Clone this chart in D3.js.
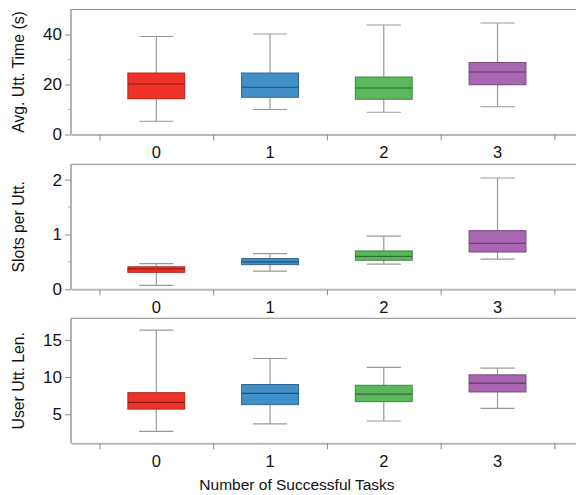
<!DOCTYPE html>
<html lang="en">
<head>
<meta charset="UTF-8">
<title>Box plots by successful tasks</title>
<script src="https://d3js.org/d3.v7.min.js"></script>
<style>
  body { margin: 0; background: #fff; }
  text { font-family: "Liberation Sans", Arial, Helvetica, sans-serif; fill: #111; }
</style>
</head>
<body>
<svg id="chart"></svg>
<script>
// categories and colours
const categories = ['0', '1', '2', '3'];
const colors = ['#ee3228', '#4190c9', '#5cb85c', '#a966b1'];

// box stats per category: [lower whisker, q1, median, q3, upper whisker]
const uttTime = [
    [5.3, 14.3, 20.2, 24.6, 39.2],
    [10.0, 14.9, 18.9, 24.6, 40.2],
    [8.9, 14.1, 18.6, 23.0, 43.8],
    [11.1, 19.9, 25.0, 28.8, 44.6]
];
const slotsPerUtt = [
    [0.07, 0.31, 0.37, 0.41, 0.47],
    [0.33, 0.45, 0.50, 0.56, 0.65],
    [0.46, 0.53, 0.60, 0.70, 0.97],
    [0.55, 0.68, 0.84, 1.07, 2.03]
];
const uttLen = [
    [2.7, 5.7, 6.6, 7.9, 16.3],
    [3.7, 6.3, 7.8, 9.0, 12.5],
    [4.1, 6.7, 7.7, 8.9, 11.3],
    [5.8, 8.0, 9.2, 10.3, 11.2]
];

// y tick labels
const ticks1 = [0, 20, 40], minor1 = [10, 30];
const ticks2 = [0, 1, 2], minor2 = [0.5, 1.5];
const ticks3 = [5, 10, 15], minor3 = [];

const panels = [
    {title: 'Avg. Utt. Time (s)', data: uttTime, domain: [0, 50], ticks: ticks1, minor: minor1, top: 9.5},
    {title: 'Slots per Utt.', data: slotsPerUtt, domain: [0, 2.28], ticks: ticks2, minor: minor2, top: 164.3},
    {title: 'User Utt. Len.', data: uttLen, domain: [1.1, 17.9], ticks: ticks3, minor: minor3, top: 318.3}
];

const width = 576, height = 495;
const panelHeight = 125;
const left = 71;

const svg = d3.select('#chart').attr('width', width).attr('height', height);

// x positions: categories at integer positions, ticks on the boundaries
const xScale = d3.scaleLinear().domain([-0.75, 3.69]).range([left, width]);
const band = xScale(1) - xScale(0);
const boundaries = d3.range(-0.5, categories.length, 1);

panels.forEach(p => {
    const bottom = p.top + panelHeight;
    const yScale = d3.scaleLinear().domain(p.domain).range([bottom, p.top]);
    const g = svg.append('g');

    // frame: top line, left axis line, bottom axis line
    g.append('line')
        .attr('x1', left).attr('x2', width)
        .attr('y1', p.top).attr('y2', p.top)
        .attr('stroke', '#8a8a8a').attr('stroke-width', 1);

    const yAxis = d3.axisLeft(yScale)
        .tickValues(p.ticks)
        .tickFormat(d3.format('d'))
        .tickSize(6)
        .tickPadding(3)
        .tickSizeOuter(0);
    const ya = g.append('g')
        .attr('transform', `translate(${left},0)`)
        .call(yAxis);
    ya.select('.domain').attr('stroke', '#9a9a9a').attr('stroke-width', 1.5)
        .attr('d', `M0,${p.top}V${bottom}`);
    ya.selectAll('.tick line').attr('stroke', '#8a8a8a');
    ya.selectAll('.tick text')
        .style('font-size', '17px')
        .style('font-family', '"Liberation Sans", Arial, sans-serif')
        .attr('fill', '#111');

    // minor ticks
    g.selectAll('.minor')
        .data(p.minor)
        .enter()
        .append('line')
        .attr('x1', left - 3).attr('x2', left)
        .attr('y1', d => yScale(d)).attr('y2', d => yScale(d))
        .attr('stroke', '#aaa');

    const xAxis = d3.axisBottom(xScale)
        .tickValues(boundaries)
        .tickSize(6)
        .tickFormat('')
        .tickSizeOuter(0);
    const xa = g.append('g')
        .attr('transform', `translate(0,${bottom})`)
        .call(xAxis);
    xa.select('.domain').attr('stroke', '#bbbbbb').attr('stroke-width', 2);
    xa.selectAll('.tick line').attr('stroke', '#8a8a8a');

    g.selectAll('.catlabel')
        .data(categories)
        .enter()
        .append('text')
        .attr('x', (d, i) => xScale(i))
        .attr('y', bottom + 23.5)
        .attr('text-anchor', 'middle')
        .style('font-size', '16.5px')
        .text(d => d);

    // axis title
    g.append('text')
        .attr('transform', `translate(24,${(p.top + bottom) / 2}) rotate(-90)`)
        .attr('text-anchor', 'middle')
        .style('font-size', '15.8px')
        .text(p.title);

    // boxes
    const boxes = g.selectAll('.box')
        .data(p.data)
        .enter()
        .append('g');

    boxes.append('line')
        .attr('x1', (d, i) => xScale(i)).attr('x2', (d, i) => xScale(i))
        .attr('y1', d => yScale(d[0])).attr('y2', d => yScale(d[4]))
        .attr('stroke', '#999').attr('stroke-width', 1.2);

    [0, 4].forEach(k => {
        boxes.append('line')
            .attr('x1', (d, i) => xScale(i) - band * 0.15)
            .attr('x2', (d, i) => xScale(i) + band * 0.15)
            .attr('y1', d => yScale(d[k])).attr('y2', d => yScale(d[k]))
            .attr('stroke', '#999').attr('stroke-width', 1.2);
    });

    boxes.append('rect')
        .attr('x', (d, i) => xScale(i) - band * 0.25)
        .attr('width', band * 0.5)
        .attr('y', d => yScale(d[3]))
        .attr('height', d => yScale(d[1]) - yScale(d[3]))
        .attr('fill', (d, i) => colors[i])
        .attr('stroke', (d, i) => d3.color(colors[i]).darker(0.9))
        .attr('stroke-width', 1);

    boxes.append('line')
        .attr('x1', (d, i) => xScale(i) - band * 0.25)
        .attr('x2', (d, i) => xScale(i) + band * 0.25)
        .attr('y1', d => yScale(d[2])).attr('y2', d => yScale(d[2]))
        .attr('stroke', (d, i) => d3.color(colors[i]).darker(1.6))
        .attr('stroke-width', 1.2);
});

svg.append('text')
    .attr('x', 297)
    .attr('y', 490)
    .attr('text-anchor', 'middle')
    .style('font-size', '15.5px')
    .text('Number of Successful Tasks');
</script>
</body>
</html>
